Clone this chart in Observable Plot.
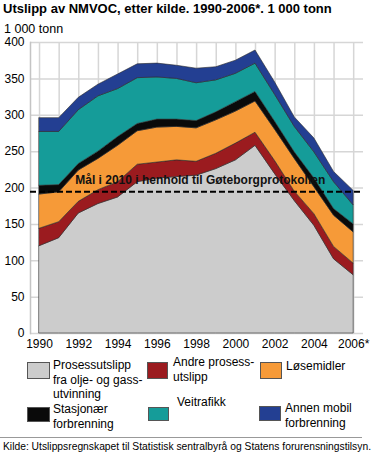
<!DOCTYPE html>
<html>
<head>
<meta charset="utf-8">
<script src="https://cdn.jsdelivr.net/npm/d3@7"></script>
<script src="https://cdn.jsdelivr.net/npm/@observablehq/plot@0.6"></script>
<style>
  body { margin: 0; background: #fff; font-family: "Liberation Sans", Arial, sans-serif; color: #000; }
  #wrap { position: relative; width: 382px; height: 453px; overflow: hidden; }
  .abs { position: absolute; white-space: nowrap; }
  .title { left: 3px; top: 1px; font-weight: bold; font-size: 13px; line-height: 16px; }
  .unit { left: 4px; top: 21px; font-size: 12.5px; line-height: 16px; }
  .lg { font-size: 12px; line-height: 14.5px; }
  .sw { position: absolute; border: 1px solid #555; box-sizing: border-box; }
  .sep { position: absolute; left: 0; top: 437px; width: 362px; height: 0; border-top: 1px solid #999; }
  .src { left: 3px; top: 440px; font-size: 10.3px; line-height: 14px; }
  #chart { position: absolute; left: 0; top: 32px; }
</style>
</head>
<body>
<div id="wrap">
  <div class="abs title">Utslipp av NMVOC, etter kilde. 1990-2006*. 1 000 tonn</div>
  <div class="abs unit">1 000 tonn</div>
  <div id="chart"></div>
  <div id="legend"></div>
  <div class="sep"></div>
  <div class="abs src">Kilde: Utslippsregnskapet til Statistisk sentralbyrå og Statens forurensningstilsyn.</div>
</div>
<script>
const years = [1990,1991,1992,1993,1994,1995,1996,1997,1998,1999,2000,2001,2002,2003,2004,2005,2006];
const seriesNames = ["Prosessutslipp fra olje- og gassutvinning", "Andre prosessutslipp", "Løsemidler", "Stasjonær forbrenning", "Veitrafikk", "Annen mobil forbrenning"];
const seriesColors = ["#cccccc", "#9b1b1f", "#f69a38", "#0a0a0a", "#159c99", "#233f92"];
const prosessOljeGass = [120,131,165,178,187,208,213,215,217,226,238,258,219,182,148,102,80];
const andreProsess    = [24,22,16,19,21,24,22,23,19,21,23,18,18,13,16,17,16];
const losemidler      = [47,41,43,43,50,46,48,46,46,46,44,43,43,45,37,43,43];
const stasjonaer      = [12,10,9,10,12,10,11,10,10,11,13,13,11,9,12,9,11];
const veitrafikk      = [74,73,74,76,66,63,58,56,52,44,39,39,37,35,36,37,26];
const annenMobil      = [19,19,17,16,20,19,19,18,20,18,18,18,17,13,19,14,20];
const seriesValues = [prosessOljeGass, andreProsess, losemidler, stasjonaer, veitrafikk, annenMobil];
const xTicks = [1990,1992,1994,1996,1998,2000,2002,2004,2006];
const xTickLabels = ["1990","1992","1994","1996","1998","2000","2002","2004","2006*"];
const yTicks = [0,50,100,150,200,250,300,350,400];
const targetValue = 195;
const targetLabel = "Mål i 2010 i henhold til Gøteborgprotokollen";
const targetLabelYear = 1991.82;
const legendLabels = [
  ["Prosessutslipp", "fra olje- og gass-", "utvinning"],
  ["Andre prosess-", "utslipp"],
  ["Løsemidler"],
  ["Stasjonær", "forbrenning"],
  ["Veitrafikk"],
  ["Annen mobil", "forbrenning"]
];

const data = [];
seriesNames.forEach((s, i) => years.forEach((y, j) => data.push({year: y, series: s, value: seriesValues[i][j]})));

const chart = Plot.plot({
  width: 382,
  height: 325,
  marginLeft: 30,
  marginRight: 19,
  marginTop: 10,
  marginBottom: 24,
  style: { fontFamily: '"Liberation Sans", Arial, sans-serif', fontSize: "12px", color: "#000", background: "transparent" },
  x: { type: "linear", domain: [1989.54, 2006.5], ticks: xTicks, tickFormat: d => xTickLabels[xTicks.indexOf(d)], tickSize: 0, tickPadding: 6, label: null },
  y: { domain: [0, 400], ticks: yTicks, tickSize: 0, tickPadding: 6, label: null },
  color: { domain: seriesNames, range: seriesColors },
  marks: [
    Plot.gridX(years, { stroke: "#d6d6d6", strokeOpacity: 1, strokeWidth: 1.5 }),
    Plot.gridY(yTicks, { stroke: "#d6d6d6", strokeOpacity: 1, strokeWidth: 1.5 }),
    Plot.frame({ anchor: "left", stroke: "#c4c4c4", strokeWidth: 1.5 }),
    Plot.areaY(data, { x: "year", y: "value", z: "series", fill: "series", order: seriesNames, stroke: "#2a2a2a", strokeWidth: 0.6 }),
    Plot.ruleY([targetValue], { stroke: "#000", strokeWidth: 2, strokeDasharray: "6,3" }),
    Plot.text([targetLabel], { x: targetLabelYear, y: targetValue, text: d => d, textAnchor: "start", dy: -11, fontWeight: "bold", fontSize: 12, fill: "#111" })
  ]
});
document.getElementById("chart").appendChild(chart);

// Legend
const legendPos = [
  { sx: 27, sy: 362, sw: 23, sh: 17, tx: 53, ty: 358 },
  { sx: 147, sy: 362, sw: 21, sh: 17, tx: 173, ty: 355 },
  { sx: 260, sy: 362, sw: 22, sh: 17, tx: 286, ty: 359 },
  { sx: 27, sy: 407, sw: 23, sh: 15, tx: 53, ty: 402 },
  { sx: 148, sy: 407, sw: 21, sh: 14, tx: 177, ty: 395 },
  { sx: 259, sy: 406, sw: 22, sh: 15, tx: 285, ty: 401 }
];
const legend = document.getElementById("legend");
seriesNames.forEach((s, i) => {
  const p = legendPos[i];
  const sw = document.createElement("div");
  sw.className = "sw";
  Object.assign(sw.style, { left: p.sx + "px", top: p.sy + "px", width: p.sw + "px", height: p.sh + "px", background: seriesColors[i] });
  legend.appendChild(sw);
  const t = document.createElement("div");
  t.className = "abs lg";
  Object.assign(t.style, { left: p.tx + "px", top: p.ty + "px" });
  t.innerHTML = legendLabels[i].join("<br>");
  legend.appendChild(t);
});
</script>
</body>
</html>
